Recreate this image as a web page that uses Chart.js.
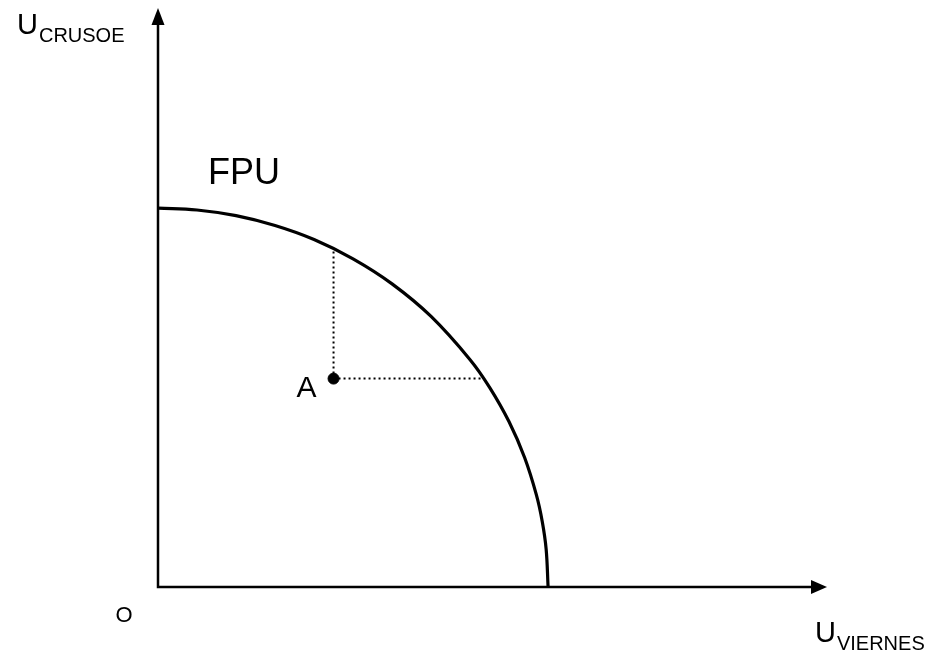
<!DOCTYPE html>
<html>
<head>
<meta charset="utf-8">
<script src="https://cdn.jsdelivr.net/npm/chart.js@4.4.1/dist/chart.umd.min.js"></script>
<style>
  html, body { margin: 0; background: #fff; }
  #wrap { width: 935px; height: 653px; }
</style>
</head>
<body>
<div id="wrap"><canvas id="fpuChart"></canvas></div>
<script>
// ----- Data -----
// utility possibility frontier: U_viernes -> U_crusoe
const fpuX = [0, 1, 2, 3, 4, 5, 6, 7, 8, 8.5, 9, 9.4, 9.7, 9.85, 9.95, 10];
const fpuY = [10, 9.95, 9.8, 9.54, 9.17, 8.66, 8.0, 7.14, 6.0, 5.27, 4.36, 3.41, 2.43, 1.73, 1.0, 0];

// point A and the dotted guides up / right to the frontier
const pointA = { x: 4.5, y: 5.5 };
const guideUpY = [5.5, 8.93];
const guideRightX = [4.5, 8.34];

// axis extents (arrow tips)
const xMax = 17.15;
const yMax = 15.28;

const FONT = "'Liberation Sans', Arial, sans-serif";

// ----- Helpers -----
function drawArrow(ctx, tipX, tipY, dir) {
  ctx.beginPath();
  if (dir === "up") {
    ctx.moveTo(tipX, tipY);
    ctx.lineTo(tipX - 6.5, tipY + 17);
    ctx.lineTo(tipX + 6.5, tipY + 17);
  } else {
    ctx.moveTo(tipX, tipY);
    ctx.lineTo(tipX - 16, tipY - 7);
    ctx.lineTo(tipX - 16, tipY + 7);
  }
  ctx.closePath();
  ctx.fill();
}

function drawSubLabel(ctx, main, sub, x, y) {
  ctx.textAlign = "left";
  ctx.textBaseline = "alphabetic";
  ctx.font = `29px ${FONT}`;
  ctx.fillText(main, x, y);
  const w = ctx.measureText(main).width;
  ctx.font = `20px ${FONT}`;
  ctx.fillText(sub, x + w + 1, y + 8);
}

// ----- Axes + text plugin -----
const axesPlugin = {
  id: "axesAndLabels",
  beforeDatasetsDraw(chart) {
    const { ctx, scales: { x, y } } = chart;
    const ox = x.getPixelForValue(0), oy = y.getPixelForValue(0);
    const ex = x.getPixelForValue(xMax), ey = y.getPixelForValue(yMax);
    ctx.save();
    ctx.strokeStyle = "#000";
    ctx.fillStyle = "#000";
    ctx.lineWidth = 2.5;
    ctx.beginPath();
    ctx.moveTo(ox, ey + 10);
    ctx.lineTo(ox, oy);
    ctx.lineTo(ex - 10, oy);
    ctx.stroke();
    drawArrow(ctx, ox, ey, "up");
    drawArrow(ctx, ex, oy, "right");
    ctx.restore();
  },
  afterDraw(chart) {
    const { ctx, scales: { x, y } } = chart;
    const ox = x.getPixelForValue(0), oy = y.getPixelForValue(0);
    ctx.save();
    ctx.fillStyle = "#000";

    drawSubLabel(ctx, "U", "CRUSOE", ox - 141, 34);
    drawSubLabel(ctx, "U", "VIERNES", ox + 657, oy + 55);

    ctx.font = `22px ${FONT}`;
    ctx.textAlign = "center";
    ctx.fillText("O", ox - 34, oy + 35);

    ctx.font = `36px ${FONT}`;
    ctx.textAlign = "left";
    ctx.fillText("FPU", x.getPixelForValue(0) + 50, y.getPixelForValue(fpuY[0]) - 24);

    ctx.font = `30px ${FONT}`;
    ctx.textAlign = "right";
    ctx.fillText("A", x.getPixelForValue(pointA.x) - 17, y.getPixelForValue(pointA.y) + 18);
    ctx.restore();
  }
};

// ----- Chart -----
const ctx = document.getElementById("fpuChart").getContext("2d");
new Chart(ctx, {
  type: "scatter",
  data: {
    datasets: [
      {
        label: "FPU",
        data: fpuX.map((v, i) => ({ x: v, y: fpuY[i] })),
        showLine: true,
        borderColor: "#000",
        borderWidth: 3.2,
        pointRadius: 0,
        tension: 0.4,
        clip: false
      },
      {
        label: "guide up",
        data: guideUpY.map(v => ({ x: pointA.x, y: v })),
        showLine: true,
        borderColor: "#000",
        borderWidth: 2,
        borderDash: [2, 3],
        pointRadius: 0
      },
      {
        label: "guide right",
        data: guideRightX.map(v => ({ x: v, y: pointA.y })),
        showLine: true,
        borderColor: "#000",
        borderWidth: 2,
        borderDash: [2, 3],
        pointRadius: 0
      },
      {
        label: "A",
        data: [pointA],
        backgroundColor: "#000",
        borderColor: "#000",
        pointRadius: 5.5
      }
    ]
  },
  options: {
    responsive: true,
    maintainAspectRatio: false,
    animation: false,
    layout: { padding: { left: 158, top: 8, right: 108, bottom: 66 } },
    plugins: { legend: { display: false }, tooltip: { enabled: false } },
    scales: {
      x: { type: "linear", min: 0, max: xMax, display: false },
      y: { type: "linear", min: 0, max: yMax, display: false }
    }
  },
  plugins: [axesPlugin]
});
</script>
</body>
</html>
